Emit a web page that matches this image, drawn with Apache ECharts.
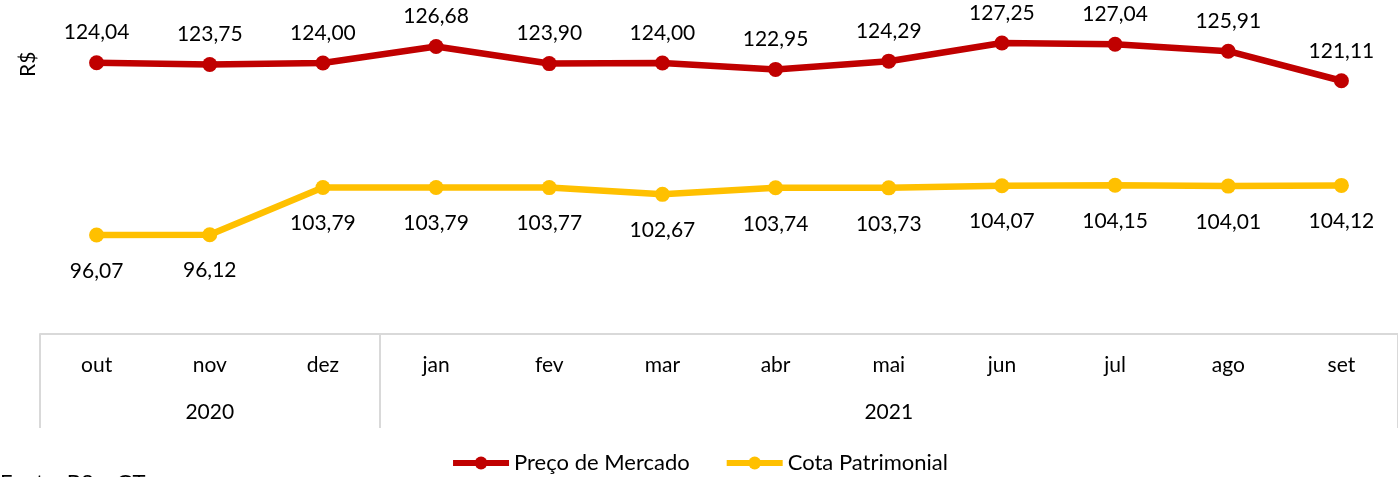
<!DOCTYPE html>
<html>
<head>
<meta charset="utf-8">
<script src="https://cdn.jsdelivr.net/npm/echarts@6/dist/echarts.min.js"></script>
<style>
  html, body { margin: 0; padding: 0; background: #fff; }
  #chart { width: 1398px; height: 477px; }
</style>
</head>
<body>
<div id="chart"></div>
<script>
const months = ['out', 'nov', 'dez', 'jan', 'fev', 'mar', 'abr', 'mai', 'jun', 'jul', 'ago', 'set']
// rótulo do ano no meio de cada grupo
const yearLabels = ['', '2020', '', '', '', '', '', '2021', '', '', '', '']
// índices onde começa cada ano (linhas verticais da tabela)
const yearStarts = [0, 3]
const precoMercado = [124.04, 123.75, 124.00, 126.68, 123.90, 124.00, 122.95, 124.29, 127.25, 127.04, 125.91, 121.11]
const cotaPatrimonial = [96.07, 96.12, 103.79, 103.79, 103.77, 102.67, 103.74, 103.73, 104.07, 104.15, 104.01, 104.12]

const font = 'Lato, "Open Sans", sans-serif'
const fmt = p => p.value.toFixed(2).replace('.', ',')

const chart = echarts.init(document.getElementById('chart'))
chart.setOption({
  animation: false,
  textStyle: { fontFamily: font },
  grid: { top: 26, left: 40, right: 0, bottom: 143, containLabel: false },
  legend: {
    bottom: -2,
    left: 'center',
    itemWidth: 56,
    itemHeight: 16,
    itemGap: 34,
    lineStyle: { width: 6 },
    textStyle: { fontSize: 22, color: '#000', fontFamily: font }
  },
  graphic: [
    {
      type: 'text',
      left: 0,
      top: 472,
      style: { text: 'Fonte: B3 e GT', fontSize: 22, fontFamily: font, fill: '#000' }
    }
  ],
  xAxis: [
    {
      type: 'category',
      data: months,
      position: 'bottom',
      axisLine: { show: true, lineStyle: { color: '#d9d9d9', width: 2 } },
      axisTick: {
        show: true,
        length: 94,
        interval: i => yearStarts.includes(i),
        lineStyle: { color: '#d9d9d9', width: 2 }
      },
      axisLabel: { margin: 21, fontSize: 21, color: '#000', fontFamily: font }
    },
    {
      type: 'category',
      data: yearLabels,
      position: 'bottom',
      offset: 0,
      axisLine: { show: false },
      axisTick: { show: false },
      axisLabel: { margin: 68, fontSize: 21, color: '#000', fontFamily: font, interval: 0 }
    }
  ],
  yAxis: {
    type: 'value',
    min: 80,
    max: 130,
    offset: 12,
    name: 'R$',
    nameLocation: 'end',
    nameRotate: 90,
    nameGap: -51,
    nameTextStyle: { fontSize: 21, color: '#000', fontFamily: font },
    axisLine: { show: false },
    axisTick: { show: false },
    axisLabel: { show: false },
    splitLine: { show: false }
  },
  series: [
    {
      name: 'Preço de Mercado',
      type: 'line',
      data: precoMercado,
      symbol: 'circle',
      symbolSize: 15,
      color: '#C00000',
      lineStyle: { width: 6.5, color: '#C00000' },
      label: { show: true, position: 'top', distance: 12, fontSize: 21, color: '#000', fontFamily: font, formatter: fmt }
    },
    {
      name: 'Cota Patrimonial',
      type: 'line',
      data: cotaPatrimonial,
      symbol: 'circle',
      symbolSize: 15,
      color: '#FFC000',
      lineStyle: { width: 6.5, color: '#FFC000' },
      label: { show: true, position: 'bottom', distance: 18, fontSize: 21, color: '#000', fontFamily: font, formatter: fmt }
    }
  ]
})
</script>
</body>
</html>
